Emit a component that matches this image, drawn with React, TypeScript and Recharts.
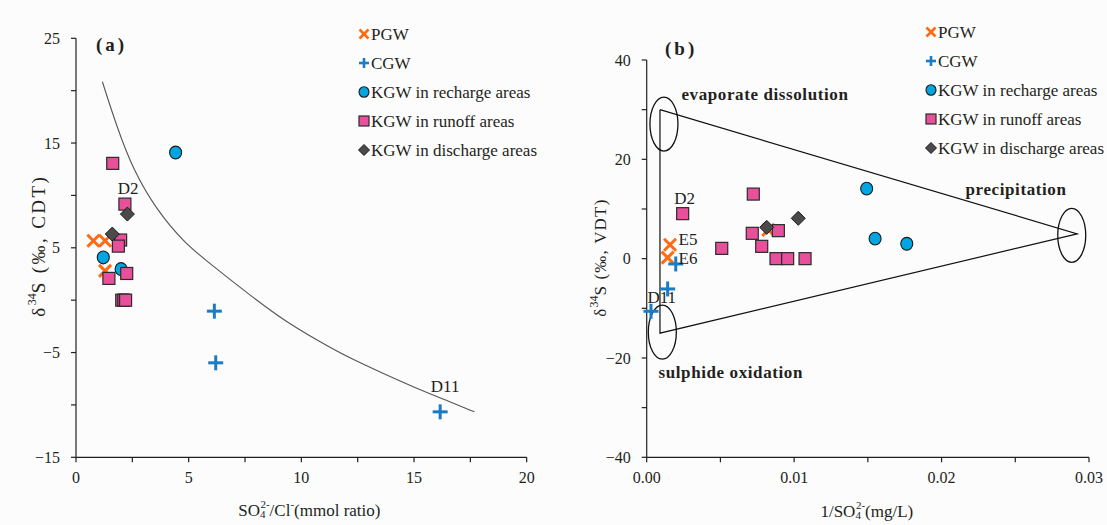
import React from 'react';
import { ScatterChart, Scatter, XAxis, YAxis, Legend } from 'recharts';

const FONT = '"Liberation Serif", "Times New Roman", Times, serif';
const INK = '#231f20';
const ORANGE = '#ff6a13';
const BLUE = '#1b7cc4';
const CYAN = '#00a6e2';
const PINK = '#e9509b';
const DARK = '#4a4a4a';

// ---------- Panel (a): d34S vs SO4/Cl ----------
const aXTicks = [0, 2.5, 5, 7.5, 10, 12.5, 15, 17.5, 20];
const aYTicks = [-15, -10, -5, 0, 5, 10, 15, 20, 25];
const aPGW = [
  { x: 0.77, y: 5.67 },
  { x: 1.29, y: 5.67 },
  { x: 1.29, y: 2.8 },
];
const aCGW = [
  { x: 6.14, y: -1.05 },
  { x: 6.2, y: -5.98 },
  { x: 16.16, y: -10.66 },
];
const aRecharge = [
  { x: 4.42, y: 14.1 },
  { x: 1.21, y: 4.08 },
  { x: 2.0, y: 2.97 },
];
const aRunoff = [
  { x: 1.63, y: 13.06 },
  { x: 2.17, y: 9.17 },
  { x: 1.98, y: 5.74 },
  { x: 1.88, y: 5.16 },
  { x: 2.25, y: 2.55 },
  { x: 1.46, y: 2.08 },
  { x: 2.03, y: 0 },
  { x: 2.12, y: 0 },
  { x: 2.2, y: 0 },
];
const aDischarge = [
  { x: 2.28, y: 8.22 },
  { x: 1.61, y: 6.31 },
];
const aCurve = [
  { x: 1.17, y: 20.85 },
  { x: 1.81, y: 16.56 },
  { x: 2.54, y: 12.42 },
  { x: 3.58, y: 8.6 },
  { x: 4.76, y: 5.6 },
  { x: 5.87, y: 3.6 },
  { x: 7.72, y: 0.48 },
  { x: 9.2, y: -1.9 },
  { x: 10.68, y: -3.8 },
  { x: 12.16, y: -5.56 },
  { x: 13.64, y: -7.0 },
  { x: 15.12, y: -8.43 },
  { x: 16.6, y: -9.7 },
  { x: 17.68, y: -10.66 },
];
const aSampleLabels = [
  { x: 2.31, y: 10.7, text: 'D2' },
  { x: 16.38, y: -8.2, text: 'D11' },
];

// ---------- Panel (b): d34S vs 1/SO4 ----------
const bXTicks = [0, 0.005, 0.01, 0.015, 0.02, 0.025, 0.03];
const bYTicks = [-40, -30, -20, -10, 0, 10, 20, 30, 40];
const bPGW = [
  { x: 0.00158, y: 2.8 },
  { x: 0.00142, y: 0.2 },
  { x: 0.00825, y: 5.8 },
];
const bCGW = [
  { x: 0.00197, y: -1.07 },
  { x: 0.00142, y: -6.1 },
  { x: 0.00029, y: -10.6 },
];
const bRecharge = [
  { x: 0.01492, y: 14.1 },
  { x: 0.01549, y: 4.03 },
  { x: 0.01764, y: 3.0 },
];
const bRunoff = [
  { x: 0.00723, y: 13.0 },
  { x: 0.00244, y: 9.06 },
  { x: 0.00716, y: 5.1 },
  { x: 0.00893, y: 5.64 },
  { x: 0.0078, y: 2.48 },
  { x: 0.00509, y: 2.07 },
  { x: 0.00877, y: 0 },
  { x: 0.00956, y: 0 },
  { x: 0.01074, y: 0 },
];
const bDischarge = [
  { x: 0.00814, y: 6.3 },
  { x: 0.01028, y: 8.12 },
];
const bTriangle = [
  { x: 0.0009, y: 30 },
  { x: 0.0292, y: 5 },
  { x: 0.0009, y: -15 },
  { x: 0.0009, y: 30 },
];
const bEndMembers = [
  { x: 0.00117, y: 27.1 },
  { x: 0.00106, y: -14.8 },
  { x: 0.02883, y: 4.7 },
];
const bSampleLabels = [
  { x: 0.00258, y: 12.1, text: 'D2' },
  { x: 0.0028, y: 3.85, text: 'E5' },
  { x: 0.0028, y: 0.1, text: 'E6' },
  { x: 0.00102, y: -7.8, text: 'D11' },
];
const bAnnotations = [
  { x: 0.00802, y: 33.0, text: 'evaporate dissolution' },
  { x: 0.02505, y: 13.9, text: 'precipitation' },
  { x: 0.0057, y: -23.0, text: 'sulphide oxidation' },
];

const legendNames = [
  'PGW',
  'CGW',
  'KGW in recharge areas',
  'KGW in runoff areas',
  'KGW in discharge areas',
];

// ---------- marker shapes ----------
const Cross = ({ cx, cy, s = 6, w = 3 }: any) => (
  <g>
    <line x1={cx - s} y1={cy - s} x2={cx + s} y2={cy + s} stroke={ORANGE} strokeWidth={w} />
    <line x1={cx - s} y1={cy + s} x2={cx + s} y2={cy - s} stroke={ORANGE} strokeWidth={w} />
  </g>
);
const Plus = ({ cx, cy, s = 7.5, w = 3 }: any) => (
  <g>
    <line x1={cx - s} y1={cy} x2={cx + s} y2={cy} stroke={BLUE} strokeWidth={w} />
    <line x1={cx} y1={cy - s} x2={cx} y2={cy + s} stroke={BLUE} strokeWidth={w} />
  </g>
);
const Dot = ({ cx, cy, rx = 6, ry = 6.4 }: any) => (
  <ellipse cx={cx} cy={cy} rx={rx} ry={ry} fill={CYAN} stroke="#1a1a1a" strokeWidth={1.1} />
);
const Square = ({ cx, cy, s = 6 }: any) => (
  <rect x={cx - s} y={cy - s} width={2 * s} height={2 * s} fill={PINK} stroke="#2b2b2b" strokeWidth={1.2} />
);
const Diamond = ({ cx, cy, s = 7 }: any) => (
  <polygon
    points={`${cx},${cy - s} ${cx + s},${cy} ${cx},${cy + s} ${cx - s},${cy}`}
    fill={DARK}
    stroke="#1a1a1a"
    strokeWidth={1}
  />
);
const Empty = () => <g />;
const EndMember = ({ cx, cy }: any) => (
  <ellipse cx={cx} cy={cy} rx={14} ry={27} fill="none" stroke="#111" strokeWidth={1.3} />
);
const SampleText = (p: any) => (
  <text
    x={p.cx}
    y={p.cy}
    textAnchor="middle"
    dominantBaseline="central"
    fontFamily={FONT}
    fontSize={17}
    fill={INK}
  >
    {p.payload.text}
  </text>
);
const AnnotText = (p: any) => (
  <text
    x={p.cx}
    y={p.cy}
    textAnchor="middle"
    dominantBaseline="central"
    fontFamily={FONT}
    fontSize={17}
    fontWeight="bold"
    letterSpacing={0.6}
    fill={INK}
  >
    {p.payload.text}
  </text>
);

const legendIcons = [
  (cx: number, cy: number) => <Cross cx={cx} cy={cy} s={4.5} w={2.6} />,
  (cx: number, cy: number) => <Plus cx={cx} cy={cy} s={5} w={2.6} />,
  (cx: number, cy: number) => <Dot cx={cx} cy={cy} rx={5} ry={5.3} />,
  (cx: number, cy: number) => <Square cx={cx} cy={cy} s={5} />,
  (cx: number, cy: number) => <Diamond cx={cx} cy={cy} s={5.5} />,
];

const LegendBox = () => (
  <svg width={260} height={150} style={{ overflow: 'visible' }}>
    {legendNames.map((name, i) => {
      const cy = 12 + i * 29;
      return (
        <g key={name}>
          {legendIcons[i](6, cy)}
          <text x={13} y={cy} dominantBaseline="central" fontFamily={FONT} fontSize={17} fill={INK}>
            {name}
          </text>
        </g>
      );
    })}
  </svg>
);

// ---------- axis titles ----------
const YTitle = (props: any) => {
  const { viewBox, gap, suffix, size, spacing, shift } = props;
  const cx = viewBox.x + viewBox.width - gap;
  const cy = viewBox.y + viewBox.height / 2 + shift;
  return (
    <text
      x={cx}
      y={cy}
      transform={`rotate(-90 ${cx} ${cy})`}
      textAnchor="middle"
      dominantBaseline="central"
      fontFamily={FONT}
      fontSize={size}
      letterSpacing={spacing}
      fill={INK}
    >
      <tspan>δ</tspan>
      <tspan fontSize={12} dy={-6} letterSpacing={0}>34</tspan>
      <tspan dy={6}>{`S (‰, ${suffix})`}</tspan>
    </text>
  );
};

const XTitleA = (props: any) => {
  const { viewBox } = props;
  const cx = viewBox.x + viewBox.width / 2 + 8;
  const cy = viewBox.y + 53;
  return (
    <text x={cx} y={cy} textAnchor="middle" dominantBaseline="central" fontFamily={FONT} fontSize={17} fill={INK}>
      <tspan>SO</tspan>
      <tspan fontSize={11} dy={4}>4</tspan>
      <tspan fontSize={11} dy={-10} dx={-5}>2-</tspan>
      <tspan dy={6}>/Cl</tspan>
      <tspan fontSize={11} dy={-6}>-</tspan>
      <tspan dy={6}>(mmol ratio)</tspan>
    </text>
  );
};

const XTitleB = (props: any) => {
  const { viewBox } = props;
  const cx = viewBox.x + viewBox.width / 2 - 1;
  const cy = viewBox.y + 54;
  return (
    <text x={cx} y={cy} textAnchor="middle" dominantBaseline="central" fontFamily={FONT} fontSize={17} fill={INK}>
      <tspan>1/SO</tspan>
      <tspan fontSize={11} dy={4}>4</tspan>
      <tspan fontSize={11} dy={-10} dx={-5}>2-</tspan>
      <tspan dy={6}>(mg/L)</tspan>
    </text>
  );
};

const minus = (s: string) => s.replace('-', '\u2212');
const isMult = (v: number, step: number) => Math.abs(v / step - Math.round(v / step)) < 1e-6;
const fmtAX = (v: number) => (isMult(v, 5) ? String(v) : '');
const fmtAY = (v: number) => (isMult(v - 5, 10) ? minus(String(v)) : '');
const fmtBX = (v: number) => (isMult(v, 0.01) ? v.toFixed(2) : '');
const fmtBY = (v: number) => (isMult(v, 20) ? minus(String(v)) : '');

const tickStyle = { fill: INK, fontSize: 16, fontFamily: FONT };
const axisLineStyle = { stroke: INK, strokeWidth: 1.2 };

const panelTitleStyle: React.CSSProperties = {
  position: 'absolute',
  fontFamily: FONT,
  fontWeight: 'bold',
  fontSize: 19,
  letterSpacing: 3,
  color: INK,
  lineHeight: '22px',
};

export default function App() {
  return (
    <div
      style={{
        position: 'absolute',
        left: 0,
        top: 0,
        width: 1107,
        height: 525,
        background: '#fcfcfc',
        overflow: 'hidden',
        fontFamily: FONT,
      }}
    >
      {/* Panel (a) */}
      <div style={{ position: 'absolute', left: 0, top: 0 }}>
        <ScatterChart width={560} height={525} margin={{ top: 38.3, right: 33.3, bottom: 37.7, left: 36 }}>
          <XAxis
            type="number"
            dataKey="x"
            domain={[0, 20]}
            ticks={aXTicks}
            interval={0}
            tickFormatter={fmtAX}
            tick={tickStyle}
            tickSize={5}
            tickMargin={9}
            axisLine={axisLineStyle}
            tickLine={axisLineStyle}
            height={30}
            label={<XTitleA />}
          />
          <YAxis
            type="number"
            dataKey="y"
            domain={[-15, 25]}
            ticks={aYTicks}
            interval={0}
            tickFormatter={fmtAY}
            tick={tickStyle}
            tickSize={5}
            tickMargin={11}
            axisLine={axisLineStyle}
            tickLine={axisLineStyle}
            width={40}
            label={<YTitle gap={38} suffix="CDT" size={19} spacing={2.4} shift={-2} />}
          />
          <Legend
            layout="vertical"
            align="center"
            verticalAlign="middle"
            content={() => <LegendBox />}
            wrapperStyle={{ position: 'absolute', left: 358, top: 22, width: 200, height: 150 }}
          />
          <Scatter
            name="curve"
            data={aCurve}
            line={{ stroke: '#555', strokeWidth: 1.1 }}
            lineJointType="basis"
            shape={<Empty />}
            legendType="none"
            isAnimationActive={false}
          />
          <Scatter name="PGW" data={aPGW} shape={<Cross />} isAnimationActive={false} />
          <Scatter name="CGW" data={aCGW} shape={<Plus />} isAnimationActive={false} />
          <Scatter name="KGW in recharge areas" data={aRecharge} shape={<Dot />} isAnimationActive={false} />
          <Scatter name="KGW in runoff areas" data={aRunoff} shape={<Square />} isAnimationActive={false} />
          <Scatter name="KGW in discharge areas" data={aDischarge} shape={<Diamond />} isAnimationActive={false} />
          <Scatter name="labels" data={aSampleLabels} shape={<SampleText />} legendType="none" isAnimationActive={false} />
        </ScatterChart>
        <div style={{ ...panelTitleStyle, left: 96, top: 34 }}>(a)</div>
      </div>

      {/* Panel (b) */}
      <div style={{ position: 'absolute', left: 580, top: 0 }}>
        <ScatterChart width={527} height={525} margin={{ top: 60, right: 18, bottom: 37.7, left: 21.7 }}>
          <XAxis
            type="number"
            dataKey="x"
            domain={[0, 0.03]}
            ticks={bXTicks}
            interval={0}
            tickFormatter={fmtBX}
            tick={tickStyle}
            tickSize={5}
            tickMargin={9}
            axisLine={axisLineStyle}
            tickLine={axisLineStyle}
            height={30}
            label={<XTitleB />}
          />
          <YAxis
            type="number"
            dataKey="y"
            domain={[-40, 40]}
            ticks={bYTicks}
            interval={0}
            tickFormatter={fmtBY}
            tick={tickStyle}
            tickSize={5}
            tickMargin={11}
            axisLine={axisLineStyle}
            tickLine={axisLineStyle}
            width={45}
            label={<YTitle gap={47} suffix="VDT" size={17} spacing={1.2} shift={-1} />}
          />
          <Legend
            layout="vertical"
            align="center"
            verticalAlign="middle"
            content={() => <LegendBox />}
            wrapperStyle={{ position: 'absolute', left: 344.7, top: 19.7, width: 200, height: 150 }}
          />
          <Scatter
            name="mixing"
            data={bTriangle}
            line={{ stroke: '#111', strokeWidth: 1.2 }}
            lineJointType="linear"
            shape={<Empty />}
            legendType="none"
            isAnimationActive={false}
          />
          <Scatter name="end members" data={bEndMembers} shape={<EndMember />} legendType="none" isAnimationActive={false} />
          <Scatter name="PGW" data={bPGW} shape={<Cross />} isAnimationActive={false} />
          <Scatter name="CGW" data={bCGW} shape={<Plus />} isAnimationActive={false} />
          <Scatter name="KGW in recharge areas" data={bRecharge} shape={<Dot />} isAnimationActive={false} />
          <Scatter name="KGW in runoff areas" data={bRunoff} shape={<Square />} isAnimationActive={false} />
          <Scatter name="KGW in discharge areas" data={bDischarge} shape={<Diamond />} isAnimationActive={false} />
          <Scatter name="labels" data={bSampleLabels} shape={<SampleText />} legendType="none" isAnimationActive={false} />
          <Scatter name="annotations" data={bAnnotations} shape={<AnnotText />} legendType="none" isAnimationActive={false} />
        </ScatterChart>
        <div style={{ ...panelTitleStyle, left: 85, top: 38 }}>(b)</div>
      </div>
    </div>
  );
}
